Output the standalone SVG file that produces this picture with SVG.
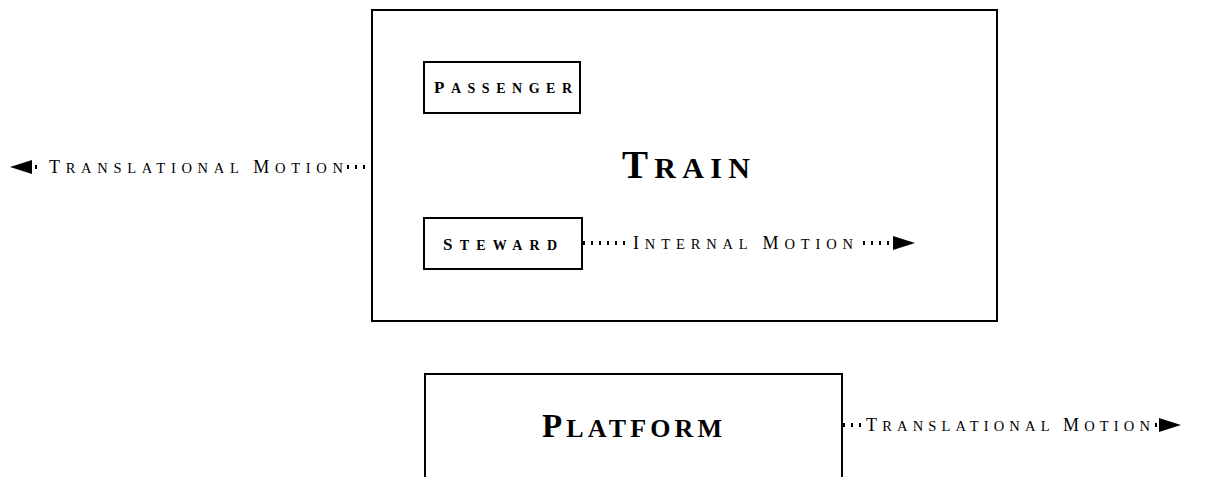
<svg xmlns="http://www.w3.org/2000/svg" width="1209" height="477" viewBox="0 0 1209 477">
<defs>
<style>
.box{fill:#fff;stroke:#000;stroke-width:2}
.t{font-family:"Liberation Serif","DejaVu Serif",serif;fill:#000}
.b{font-weight:bold}
.dot{fill:none;stroke:#000;stroke-width:4;stroke-dasharray:2 6}
.bg{fill:#fff}
</style>
<path id="ah" d="M0,0 L-22,-7 L-22,7 Z" fill="#000"/>
</defs>
<rect width="1209" height="477" fill="#fff"/>
<g id="train">
<rect class="box" x="372" y="10" width="625" height="311"/>
<text class="t b" x="622" y="178" font-size="30" textLength="128" lengthAdjust="spacing"><tspan font-size="39">T</tspan>RAIN</text>
</g>
<g id="passenger">
<rect class="box" x="424" y="62" width="156" height="51"/>
<text class="t b" x="434" y="93" font-size="14" textLength="138" lengthAdjust="spacing"><tspan font-size="17">P</tspan>ASSENGER</text>
</g>
<g id="steward">
<rect class="box" x="424" y="218" width="158" height="51"/>
<text class="t b" x="443" y="250" font-size="14" textLength="114" lengthAdjust="spacing"><tspan font-size="17">S</tspan>TEWARD</text>
</g>
<g id="platform">
<rect class="box" x="425" y="374" width="417" height="140"/>
<text class="t b" x="542" y="437" font-size="26" textLength="180" lengthAdjust="spacing"><tspan font-size="33">P</tspan>LATFORM</text>
</g>
<g id="connectors">
<g id="train-motion">
<path class="dot" d="M373,167 H32"/>
<use href="#ah" transform="translate(10,167) rotate(180)"/>
<rect class="bg" x="40" y="155" width="306" height="24"/>
<text class="t" x="49" y="173" font-size="14.5" textLength="294" lengthAdjust="spacing"><tspan font-size="18">T</tspan>RANSLATIONAL <tspan font-size="18">M</tspan>OTION</text>
</g>
<g id="internal-motion">
<path class="dot" d="M583,243 H893"/>
<use href="#ah" transform="translate(915,243)"/>
<rect class="bg" x="626" y="231" width="232" height="24"/>
<text class="t" x="633" y="249" font-size="14.5" textLength="220" lengthAdjust="spacing"><tspan font-size="18">I</tspan>NTERNAL <tspan font-size="18">M</tspan>OTION</text>
</g>
<g id="platform-motion">
<path class="dot" d="M843,425 H1159"/>
<use href="#ah" transform="translate(1181,425)"/>
<rect class="bg" x="862" y="413" width="290" height="24"/>
<text class="t" x="866" y="431" font-size="14.5" textLength="284" lengthAdjust="spacing"><tspan font-size="18">T</tspan>RANSLATIONAL <tspan font-size="18">M</tspan>OTION</text>
</g>
</g>
</svg>
